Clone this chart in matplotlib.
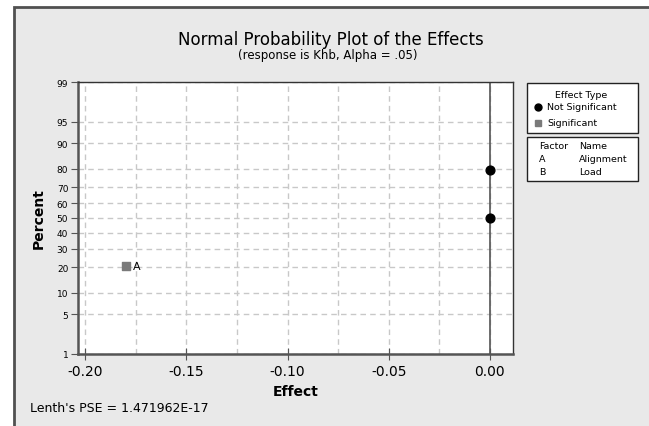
import numpy as np
import matplotlib
matplotlib.use("Agg")
import matplotlib.pyplot as plt
from matplotlib.patches import Rectangle
from statistics import NormalDist

# data
factors = ["A", "B"]
factor_names = ["Alignment", "Load"]
ns_effect = [0.0, 0.0]          # not significant effects
ns_percent = [50.0, 79.4]
sig_effect = [-0.18]            # significant effects
sig_percent = [20.6]
sig_labels = ["A"]
ref_line_x = [0.0, 0.0]
ref_line_p = [1.0, 99.0]
y_ticks = [1, 5, 10, 20, 30, 40, 50, 60, 70, 80, 90, 95, 99]
x_ticks = [-0.20, -0.15, -0.10, -0.05, 0.00]
pse_text = "Lenth's PSE = 1.471962E-17"

plt.rcParams['font.family'] = ['DejaVu Sans']
plt.rcParams['axes.unicode_minus'] = False

_nd = NormalDist()
_ppf = np.vectorize(_nd.inv_cdf, otypes=[float])
_cdf = np.vectorize(_nd.cdf, otypes=[float])

def probit(p):
    p = np.clip(np.asarray(p, dtype=float) / 100.0, 1e-9, 1 - 1e-9)
    return _ppf(p)

def inv_probit(z):
    return _cdf(np.asarray(z, dtype=float)) * 100.0

W, H = 649, 427
fig = plt.figure(figsize=(W / 100, H / 100), dpi=100)
fig.patch.set_facecolor("white")

# grey panel with dark frame
fig.patches.append(Rectangle((14 / W, -0.1), 1.2, (H - 8) / H + 0.1,
                             transform=fig.transFigure, facecolor="#e9e9e9",
                             edgecolor="#505050", linewidth=2, zorder=-10))

ax = fig.add_axes([78 / W, (H - 355) / H, (513 - 78) / W, (355 - 83) / H])
ax.set_facecolor("white")
ax.set_yscale("function", functions=(probit, inv_probit))
ax.set_ylim(1, 99)
ax.set_xlim(-0.2035, 0.0114)

ax.set_yticks(y_ticks)
ax.set_yticklabels([str(t) for t in y_ticks], fontsize=6.5)
ax.yaxis.set_minor_locator(matplotlib.ticker.NullLocator())
ax.set_xticks(x_ticks)
ax.set_xticklabels(["%.2f" % t for t in x_ticks], fontsize=10)
ax.set_xticks(np.arange(-0.2, 0.001, 0.025), minor=True)
ax.tick_params(axis="x", which="major", direction="inout", length=8, color="#555555")
ax.tick_params(axis="x", which="minor", length=0)
ax.tick_params(axis="y", direction="out", length=5, color="#555555", pad=2)

ax.grid(True, axis="x", which="both", linestyle=(0, (4, 3)), color="#c8c8c8", linewidth=1)
ax.grid(True, axis="y", which="major", linestyle=(0, (4, 3)), color="#c8c8c8", linewidth=1)
ax.set_axisbelow(True)

for s in ["left", "bottom"]:
    ax.spines[s].set_color("#555555")
    ax.spines[s].set_linewidth(1.8)
for s in ["top", "right"]:
    ax.spines[s].set_color("#333333")
    ax.spines[s].set_linewidth(1)

ax.plot(ref_line_x, ref_line_p, color="#555555", linewidth=1.2, zorder=2)
ax.scatter(ns_effect, ns_percent, marker="o", s=40, color="black", zorder=3)
ax.scatter(sig_effect, sig_percent, marker="s", s=38, color="#7a7a7a", zorder=3)
for x, y, lab in zip(sig_effect, sig_percent, sig_labels):
    ax.annotate(lab, (x, y), xytext=(5, 0), textcoords="offset points",
                va="center", ha="left", fontsize=8)

ax.set_xlabel("Effect", fontsize=10, fontweight="bold", labelpad=4)
ax.set_ylabel("Percent", fontsize=10, fontweight="bold", labelpad=8)

fig.text(331 / W, 1 - 40 / H, "Normal Probability Plot of the Effects",
         ha="center", va="center", fontsize=12)
fig.text(328 / W, 1 - 56 / H, "(response is Khb, Alpha = .05)",
         ha="center", va="center", fontsize=8.5)
fig.text(30 / W, 1 - 409 / H, pse_text, ha="left", va="center", fontsize=9)

# legend boxes
fig.patches.append(Rectangle((527 / W, 1 - 134 / H), 111 / W, 50 / H,
                             transform=fig.transFigure, facecolor="white",
                             edgecolor="#222222", linewidth=1))
fig.text(581 / W, 1 - 96 / H, "Effect Type", ha="center", va="center", fontsize=6.8)
fig.lines.append(plt.Line2D([538 / W], [1 - 108 / H], marker="o", markersize=5,
                            color="black", transform=fig.transFigure))
fig.text(547 / W, 1 - 108 / H, "Not Significant", ha="left", va="center", fontsize=6.8)
fig.lines.append(plt.Line2D([538 / W], [1 - 124 / H], marker="s", markersize=5,
                            color="#7a7a7a", transform=fig.transFigure))
fig.text(547 / W, 1 - 124 / H, "Significant", ha="left", va="center", fontsize=6.8)

fig.patches.append(Rectangle((527 / W, 1 - 182 / H), 111 / W, 44 / H,
                             transform=fig.transFigure, facecolor="white",
                             edgecolor="#222222", linewidth=1))
fig.text(539 / W, 1 - 147 / H, "Factor", ha="left", va="center", fontsize=6.8)
fig.text(579 / W, 1 - 147 / H, "Name", ha="left", va="center", fontsize=6.8)
for i, (f, n) in enumerate(zip(factors, factor_names)):
    yy = 1 - (160 + 12.5 * i) / H
    fig.text(539 / W, yy, f, ha="left", va="center", fontsize=6.8)
    fig.text(579 / W, yy, n, ha="left", va="center", fontsize=6.8)

fig.savefig("out.png", dpi=100)
